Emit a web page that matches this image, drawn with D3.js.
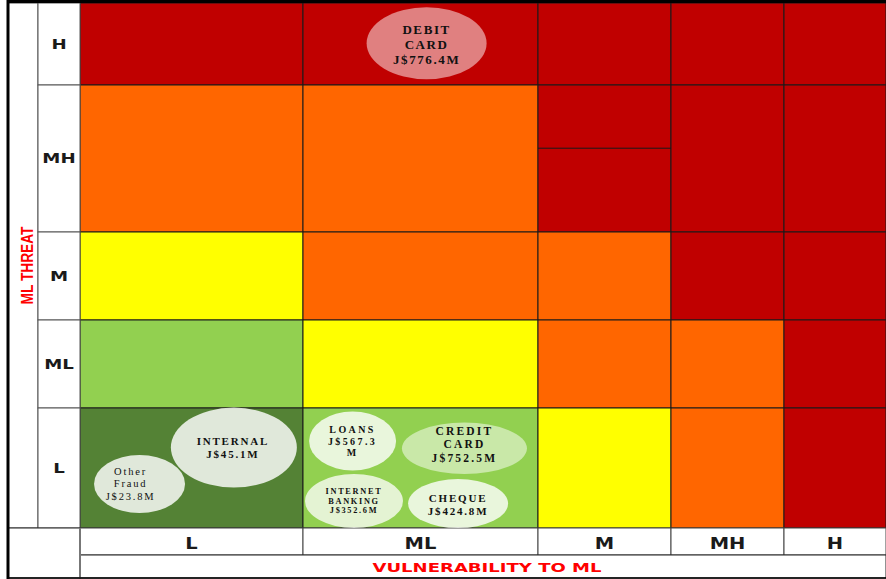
<!DOCTYPE html>
<html>
<head>
<meta charset="utf-8">
<script src="https://cdn.jsdelivr.net/npm/d3@7"></script>
<style>
  html, body { margin: 0; padding: 0; background: #fff; }
  svg { display: block; }
</style>
</head>
<body>
<svg id="chart" width="886" height="579"></svg>
<script>
// ML risk heat map: threat (rows) against vulnerability (columns)
const threatLevels = ["H", "MH", "M", "ML", "L"];
const vulnerabilityLevels = ["L", "ML", "M", "MH", "H"];

// Risk rating of each cell, row by threat level, column by vulnerability level
const riskGrid = [
  ["High",    "High",    "High",    "High",    "High"],
  ["MedHigh", "MedHigh", "High",    "High",    "High"],
  ["Medium",  "MedHigh", "MedHigh", "High",    "High"],
  ["MedLow",  "Medium",  "MedHigh", "MedHigh", "High"],
  ["Low",     "MedLow",  "Medium",  "MedHigh", "High"]
];

// Products and their exposure (J$ millions)
const products = ["DEBIT CARD", "INTERNAL", "Other Fraud", "LOANS", "CREDIT CARD", "INTERNET BANKING", "CHEQUE"];
const productValues = [776.4, 45.1, 23.8, 567.3, 752.5, 352.6, 424.8];
const productThreat = ["H", "L", "L", "L", "L", "L", "L"];
const productVulnerability = ["ML", "L", "L", "ML", "ML", "ML", "ML"];

const axisTitleY = "ML THREAT";
const axisTitleX = "VULNERABILITY TO ML";

// ---------- layout ----------
const svg = d3.select("#chart");
const W = 886, H = 579;
const frameLeft = 8, frameTop = 3;
const titleColRight = 38, labelColRight = 80;
const gridBottom = 528, labelRowBottom = 555, frameBottom = 578;

// Piecewise scales: unequal column widths and row heights
const x = d3.scaleLinear().domain([0, 1, 2, 3, 4, 5]).range([labelColRight, 303, 538, 671, 784, W]);
const y = d3.scaleLinear().domain([0, 1, 2, 3, 4, 5]).range([frameTop, 85, 232, 320, 408, gridBottom]);
const col = d => vulnerabilityLevels.indexOf(d);
const row = d => threatLevels.indexOf(d);

const color = d3.scaleOrdinal()
  .domain(["High", "MedHigh", "Medium", "MedLow", "Low"])
  .range(["#c00000", "#ff6600", "#ffff00", "#92d050", "#548235"]);

svg.append("rect").attr("width", W).attr("height", H).attr("fill", "#fff");

// ---------- heat map cells ----------
const cells = [];
riskGrid.forEach((r, i) => r.forEach((rating, j) => cells.push({ i, j, rating })));

svg.append("g").selectAll("rect").data(cells).join("rect")
  .attr("x", d => x(d.j))
  .attr("y", d => y(d.i))
  .attr("width", d => x(d.j + 1) - x(d.j))
  .attr("height", d => y(d.i + 1) - y(d.i))
  .attr("fill", d => color(d.rating))
  .attr("stroke", "#1a1a1a")
  .attr("stroke-width", 1);

// The MH/M cell is drawn as two stacked blocks
svg.append("line")
  .attr("x1", x(col("M"))).attr("x2", x(col("M") + 1))
  .attr("y1", y(row("MH") + 0.43)).attr("y2", y(row("MH") + 0.43))
  .attr("stroke", "#1a1a1a").attr("stroke-width", 1);

// ---------- threat labels (left) ----------
svg.append("rect")
  .attr("x", frameLeft).attr("y", frameTop).attr("width", titleColRight - frameLeft).attr("height", gridBottom - frameTop)
  .attr("fill", "#fff").attr("stroke", "#444").attr("stroke-width", 1);

svg.append("g").selectAll("rect").data(threatLevels).join("rect")
  .attr("x", titleColRight).attr("y", (d, i) => y(i))
  .attr("width", labelColRight - titleColRight)
  .attr("height", (d, i) => y(i + 1) - y(i))
  .attr("fill", "#fff").attr("stroke", "#555").attr("stroke-width", 1);

svg.append("g").selectAll("text").data(threatLevels).join("text")
  .attr("transform", (d, i) => `translate(${(titleColRight + labelColRight) / 2},${(y(i) + y(i + 1)) / 2}) scale(1.3,1)`)
  .attr("text-anchor", "middle").attr("dominant-baseline", "central")
  .attr("font-family", "DejaVu Sans, sans-serif").attr("font-weight", "bold")
  .attr("font-size", 14).attr("fill", "#1a1a1a")
  .text(d => d);

svg.append("text")
  .attr("transform", `translate(${(frameLeft + titleColRight) / 2 + 4},${(frameTop + gridBottom) / 2}) rotate(-90)`)
  .attr("text-anchor", "middle").attr("dominant-baseline", "central")
  .attr("font-family", "Liberation Sans, Arial, sans-serif").attr("font-weight", "bold")
  .attr("font-size", 17).attr("fill", "#ff0000")
  .attr("textLength", 78).attr("lengthAdjust", "spacingAndGlyphs")
  .text(axisTitleY);

// ---------- vulnerability labels (bottom) ----------
svg.append("rect")
  .attr("x", frameLeft).attr("y", gridBottom).attr("width", labelColRight - frameLeft).attr("height", frameBottom - gridBottom)
  .attr("fill", "#fff").attr("stroke", "#222").attr("stroke-width", 1);

svg.append("g").selectAll("rect").data(vulnerabilityLevels).join("rect")
  .attr("x", (d, j) => x(j)).attr("y", gridBottom)
  .attr("width", (d, j) => x(j + 1) - x(j)).attr("height", labelRowBottom - gridBottom)
  .attr("fill", "#fff").attr("stroke", "#444").attr("stroke-width", 1);

svg.append("g").selectAll("text").data(vulnerabilityLevels).join("text")
  .attr("transform", (d, j) => `translate(${(x(j) + x(j + 1)) / 2},${(gridBottom + labelRowBottom) / 2 + 2}) scale(1.3,1)`)
  .attr("text-anchor", "middle").attr("dominant-baseline", "central")
  .attr("font-family", "DejaVu Sans, sans-serif").attr("font-weight", "bold")
  .attr("font-size", 15).attr("fill", "#1a1a1a")
  .text(d => d);

svg.append("rect")
  .attr("x", labelColRight).attr("y", labelRowBottom).attr("width", W - labelColRight).attr("height", frameBottom - labelRowBottom)
  .attr("fill", "#fff").attr("stroke", "#222").attr("stroke-width", 1);

svg.append("text")
  .attr("x", 487).attr("y", (labelRowBottom + frameBottom) / 2 + 1)
  .attr("text-anchor", "middle").attr("dominant-baseline", "central")
  .attr("font-family", "DejaVu Sans, sans-serif").attr("font-weight", "bold")
  .attr("font-size", 13).attr("fill", "#ff0000")
  .attr("textLength", 229).attr("lengthAdjust", "spacingAndGlyphs")
  .text(axisTitleX);

// gray divider down the label column edge
svg.append("line")
  .attr("x1", labelColRight).attr("x2", labelColRight)
  .attr("y1", gridBottom).attr("y2", frameBottom)
  .attr("stroke", "#777").attr("stroke-width", 2);

// ---------- product bubbles ----------
// placement inside the cell (fraction of cell), radii, fill opacity, text style
const bubbleLayout = {
  "DEBIT CARD":       { fx: 0.526, fy: 0.49, rx: 60,   ry: 36,   op: 0.5,  size: 13,   lh: 15,   dx: 0,  dy: 1,  ls: 1.6, bold: true, nameLines: ["DEBIT", "CARD"] },
  "INTERNAL":         { fx: 0.69,  fy: 0.33, rx: 63,   ry: 40,   op: 0.82, size: 11,   lh: 12.6, dx: -1, dy: 0,  ls: 1.8, bold: true, nameLines: ["INTERNAL"] },
  "Other Fraud":      { fx: 0.267, fy: 0.633, rx: 45.5, ry: 29,  op: 0.82, size: 10.5, lh: 12.4, dx: -9, dy: 0,  ls: 1.8, bold: false, nameLines: ["Other", "Fraud"] },
  "LOANS":            { fx: 0.211, fy: 0.275, rx: 43.5, ry: 29.5, op: 0.8, size: 10,   lh: 11.8, dx: 0,  dy: 0,  ls: 2.4, bold: true, nameLines: ["LOANS"], wrapValue: true },
  "CREDIT CARD":      { fx: 0.687, fy: 0.336, rx: 62.5, ry: 25.7, op: 0.5, size: 11.5, lh: 13.2, dx: 0,  dy: -4, ls: 2.2, bold: true, nameLines: ["CREDIT", "CARD"] },
  "INTERNET BANKING": { fx: 0.217, fy: 0.775, rx: 49,   ry: 27,  op: 0.75, size: 8.3,  lh: 9.8,  dx: 0,  dy: 0,  ls: 1.7, bold: true, nameLines: ["INTERNET", "BANKING"] },
  "CHEQUE":           { fx: 0.66,  fy: 0.796, rx: 50,   ry: 24.5, op: 0.8, size: 11,   lh: 12.6, dx: 0,  dy: 1,  ls: 1.8, bold: true, nameLines: ["CHEQUE"] }
};

const bubbles = products.map((name, k) => {
  const L = bubbleLayout[name];
  const j = col(productVulnerability[k]);
  const i = row(productThreat[k]);
  const value = `J$${productValues[k].toFixed(1)}M`;
  const valueLines = L.wrapValue ? [value.slice(0, -1), "M"] : [value];
  return {
    name, value: productValues[k], L,
    cx: x(j + L.fx), cy: y(i + L.fy),
    lines: L.nameLines.concat(valueLines)
  };
});

const bg = svg.append("g").selectAll("g").data(bubbles).join("g");

bg.append("ellipse")
  .attr("cx", d => d.cx).attr("cy", d => d.cy)
  .attr("rx", d => d.L.rx).attr("ry", d => d.L.ry)
  .attr("fill", "#ffffff").attr("fill-opacity", d => d.L.op);

bg.each(function (d) {
  const n = d.lines.length;
  d3.select(this).selectAll("text").data(d.lines).join("text")
    .attr("x", d.cx + d.L.dx)
    .attr("y", (t, m) => d.cy + d.L.dy + (m - (n - 1) / 2) * d.L.lh)
    .attr("text-anchor", "middle").attr("dominant-baseline", "central")
    .attr("font-family", "Liberation Serif, Times New Roman, serif")
    .attr("font-weight", d.L.bold ? "bold" : "normal")
    .attr("font-size", d.L.size)
    .attr("letter-spacing", d.L.ls)
    .attr("fill", "#111")
    .text(t => t);
});

// ---------- outer frame ----------
svg.append("line").attr("x1", frameLeft).attr("x2", W).attr("y1", 1.5).attr("y2", 1.5)
  .attr("stroke", "#000").attr("stroke-width", 3);
svg.append("line").attr("x1", frameLeft).attr("x2", frameLeft).attr("y1", 0).attr("y2", frameBottom + 1)
  .attr("stroke", "#000").attr("stroke-width", 3);
svg.append("line").attr("x1", frameLeft).attr("x2", W).attr("y1", frameBottom).attr("y2", frameBottom)
  .attr("stroke", "#000").attr("stroke-width", 1.5);
</script>
</body>
</html>
